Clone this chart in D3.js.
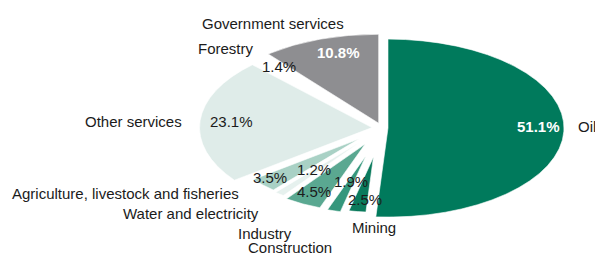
<!DOCTYPE html>
<html>
<head>
<meta charset="utf-8">
<script src="https://cdn.jsdelivr.net/npm/d3@7"></script>
<style>
  body { margin: 0; background: #fff; }
  svg text { font-family: "Liberation Sans", Arial, sans-serif; font-size: 15px; fill: #1b1b1b; }
  .pct-light { fill: #fff; font-weight: bold; }
</style>
</head>
<body>
<svg id="chart" width="595" height="255"></svg>
<script>
// shares of GDP by sector, clockwise from 12 o'clock
const categories = ["Oil", "Mining", "Construction", "Industry", "Water and electricity",
  "Agriculture, livestock and fisheries", "Other services", "Forestry", "Government services"];
const shares = [51.1, 2.5, 1.9, 4.5, 1.2, 3.5, 23.1, 1.4, 10.8];

// look of each wedge
const colours = ["#007a5c", "#0a7a5c", "#35977c", "#5aa891", "#e6f1ee", "#a9d1c5", "#dfece9", "#ffffff", "#8e8e91"];
const explode = [6, 58, 58, 36, 34, 32, 10, 10, 10];
const reach = [1, 0.62, 0.64, 0.76, 0.75, 0.75, 0.98, 1, 1];
// paint order: light wedges first so the darker spikes stay whole
const layer = [3, 8, 7, 6, 4, 5, 0, 1, 2];

// label placement, relative to the pie centre: [dx, baseline dy]
const nameAt = [[196, 4], [-30, 105], [-134, 125], [-144, 111], [-259, 91],
  [-370, 71], [-297, -1], [-184, -74], [-180, -99]];
const pctAt = [[135, 4], [-34, 77], [-48, 59], [-85, 69], [-85, 47],
  [-129, 55], [-172, -1], [-120, -56], [-65, -70]];

const cx = 382, cy = 128, R = 176, squash = 89 / 176;

const svg = d3.select("#chart");

const pie = d3.pie().sort(null).value(d => d);
const arcs = pie(shares).map((d, i) => Object.assign(d, { i }));
arcs.sort((a, b) => layer[a.i] - layer[b.i]);

const g = svg.append("g")
  .attr("transform", `translate(${cx},${cy}) scale(1,${squash})`);

g.selectAll("path")
  .data(arcs)
  .enter()
  .append("path")
  .attr("transform", d => {
    const mid = (d.startAngle + d.endAngle) / 2;
    return `translate(${explode[d.i] * Math.sin(mid)},${-explode[d.i] * Math.cos(mid)})`;
  })
  .attr("d", d => d3.arc().innerRadius(0).outerRadius(R * reach[d.i])(d))
  .attr("fill", d => colours[d.i])
  .attr("stroke", "#fff")
  .attr("stroke-width", 0.6)
  .attr("vector-effect", "non-scaling-stroke");

// category names
svg.selectAll("text.name")
  .data(categories)
  .enter()
  .append("text")
  .attr("class", "name")
  .attr("x", (d, i) => cx + nameAt[i][0])
  .attr("y", (d, i) => cy + nameAt[i][1])
  .text(d => d);

// percentages
svg.selectAll("text.pct")
  .data(shares)
  .enter()
  .append("text")
  .attr("class", (d, i) => (i === 0 || i === 8) ? "pct pct-light" : "pct")
  .attr("x", (d, i) => cx + pctAt[i][0])
  .attr("y", (d, i) => cy + pctAt[i][1])
  .text(d => d.toFixed(1) + "%");
</script>
</body>
</html>
